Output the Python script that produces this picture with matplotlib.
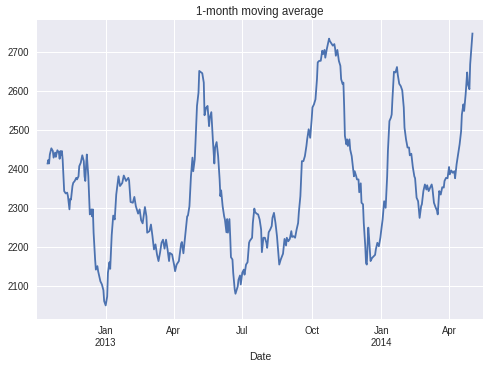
"""
1-month moving average of daily counts, seaborn darkgrid look.
Values read off the reference picture (days counted from 2012-10-01).
"""
import numpy as np
import pandas as pd
import matplotlib
matplotlib.use("Agg")
import matplotlib.pyplot as plt

start = pd.Timestamp("2012-10-01")

day = [
    15, 16, 17, 18, 20, 22, 23, 25, 26, 28, 30, 31, 32, 33, 34, 35, 36, 37, 39, 41,
    42, 44, 45, 46, 48, 49, 51, 53, 54, 56, 57, 59, 61, 63, 64, 65, 66, 67, 69, 70,
    71, 73, 74, 75, 76, 78, 79, 81, 82, 85, 87, 89, 90, 92, 94, 95, 97, 98, 100, 102,
    104, 106, 109, 111, 114, 116, 119, 122, 123, 125, 128, 130, 132, 135, 137, 139, 141, 144, 146, 147,
    150, 152, 154, 156, 158, 160, 162, 164, 166, 168, 170, 172, 174, 176, 177, 180, 183, 184, 186, 189,
    192, 193, 195, 197, 200, 201, 203, 205, 207, 208, 210, 211, 213, 215, 216, 218, 220, 222, 223, 225,
    227, 229, 230, 232, 234, 236, 237, 239, 241, 243, 244, 245, 247, 249, 250, 252, 253, 254, 256, 257,
    258, 260, 261, 263, 264, 267, 268, 270, 271, 273, 275, 276, 278, 280, 282, 283, 286, 287, 289, 290,
    292, 294, 296, 298, 299, 301, 303, 305, 306, 308, 310, 312, 313, 315, 317, 319, 320, 322, 324, 326,
    327, 329, 331, 332, 334, 336, 338, 339, 341, 343, 345, 347, 348, 350, 352, 354, 356, 358, 359, 361,
    363, 365, 366, 368, 370, 372, 373, 375, 377, 379, 380, 382, 383, 385, 388, 389, 391, 393, 395, 396,
    397, 399, 401, 403, 404, 406, 407, 408, 409, 411, 412, 413, 415, 416, 418, 420, 421, 422, 424, 425,
    427, 428, 430, 431, 433, 434, 436, 437, 438, 440, 441, 443, 445, 447, 449, 450, 452, 454, 456, 457,
    459, 461, 463, 465, 466, 468, 470, 471, 472, 474, 476, 478, 479, 481, 483, 485, 487, 488, 490, 492,
    494, 495, 497, 499, 501, 502, 504, 506, 508, 510, 511, 513, 515, 517, 518, 520, 522, 524, 525, 527,
    529, 531, 532, 534, 536, 538, 540, 541, 543, 545, 547, 548, 550, 552, 554, 555, 557, 559, 561, 563,
    564, 566, 567, 569, 571, 572, 574, 575, 577, 578,
]

value = [
    2414, 2423, 2414, 2437, 2453, 2446, 2429, 2442, 2431, 2448, 2442, 2426, 2446, 2435, 2446, 2424, 2381, 2343, 2337, 2339,
    2330, 2296, 2323, 2321, 2356, 2364, 2369, 2377, 2373, 2381, 2407, 2416, 2435, 2420, 2381, 2369, 2407, 2437, 2381, 2330,
    2283, 2296, 2278, 2296, 2236, 2167, 2141, 2150, 2137, 2111, 2103, 2088, 2060, 2049, 2072, 2133, 2160, 2143, 2230, 2280,
    2270, 2334, 2381, 2356, 2364, 2383, 2369, 2377, 2371, 2315, 2313, 2328, 2304, 2285, 2296, 2268, 2260, 2302, 2278, 2236,
    2240, 2257, 2227, 2193, 2206, 2180, 2163, 2184, 2210, 2218, 2195, 2218, 2193, 2163, 2184, 2180, 2150, 2137, 2154, 2163,
    2208, 2212, 2183, 2222, 2278, 2280, 2304, 2381, 2429, 2394, 2424, 2467, 2562, 2596, 2652, 2649, 2646, 2622, 2538, 2557,
    2562, 2510, 2532, 2546, 2476, 2414, 2455, 2469, 2433, 2373, 2330, 2345, 2304, 2278, 2270, 2237, 2271, 2236, 2271, 2227,
    2173, 2167, 2133, 2090, 2079, 2098, 2115, 2126, 2103, 2133, 2141, 2128, 2154, 2160, 2210, 2215, 2223, 2261, 2298, 2289,
    2285, 2283, 2270, 2244, 2186, 2223, 2223, 2210, 2197, 2237, 2244, 2253, 2274, 2287, 2261, 2227, 2203, 2154, 2167, 2177,
    2182, 2220, 2203, 2223, 2214, 2220, 2240, 2225, 2227, 2223, 2244, 2261, 2289, 2330, 2420, 2420, 2433, 2459, 2476, 2502,
    2480, 2528, 2558, 2566, 2579, 2631, 2674, 2678, 2678, 2704, 2695, 2706, 2686, 2708, 2735, 2729, 2723, 2717, 2721, 2710,
    2691, 2706, 2678, 2665, 2631, 2618, 2622, 2562, 2485, 2463, 2476, 2459, 2476, 2450, 2433, 2399, 2381, 2394, 2381, 2373,
    2373, 2340, 2363, 2313, 2309, 2261, 2201, 2158, 2154, 2249, 2223, 2163, 2171, 2175, 2179, 2193, 2210, 2201, 2223, 2240,
    2270, 2317, 2300, 2381, 2446, 2523, 2532, 2540, 2580, 2650, 2648, 2662, 2643, 2619, 2613, 2602, 2558, 2506, 2476, 2455,
    2455, 2435, 2439, 2405, 2381, 2376, 2326, 2317, 2274, 2304, 2309, 2343, 2360, 2347, 2358, 2343, 2352, 2360, 2350, 2313,
    2302, 2293, 2283, 2343, 2334, 2353, 2352, 2369, 2377, 2376, 2405, 2386, 2396, 2390, 2394, 2376, 2412, 2437, 2463, 2497,
    2540, 2566, 2549, 2592, 2648, 2618, 2605, 2669, 2721, 2748,
]

x_range = ("2012-10-02", "2014-05-16")
tick_dates = ["2013-01-01", "2013-04-01", "2013-07-01", "2013-10-01", "2014-01-01", "2014-04-01"]
tick_labels = ["Jan\n2013", "Apr", "Jul", "Oct", "Jan\n2014", "Apr"]

plt.rcParams.update({
    "font.family": ["Liberation Sans", "DejaVu Sans"],
    "axes.facecolor": "#EAEAF2",
    "figure.facecolor": "white",
    "axes.edgecolor": "white",
    "grid.color": "white",
    "text.color": ".15",
    "xtick.color": ".15",
    "ytick.color": ".15",
    "axes.labelcolor": ".15",
})

dates = start + pd.to_timedelta(day, unit="D")

fig = plt.figure(figsize=(490 / 72, 367 / 72), dpi=72)
ax = fig.add_axes([37 / 490, 1 - 319 / 367, 446 / 490, 299 / 367])
ax.plot(dates, value, color="#4C72B0", linewidth=1.8)

ax.set_xlim(pd.Timestamp(x_range[0]), pd.Timestamp(x_range[1]))
ax.set_xticks([pd.Timestamp(d) for d in tick_dates])
ax.set_xticklabels(tick_labels)
ax.set_yticks(np.arange(2100, 2701, 100))
ax.margins(y=0.05)

ax.grid(True, color="white", linewidth=1)
ax.set_axisbelow(True)
for s in ax.spines.values():
    s.set_visible(False)
ax.tick_params(axis="both", length=0, labelsize=9.6, pad=7.5)
ax.set_xlabel("Date", fontsize=10.5)
ax.set_title("1-month moving average", fontsize=11.5, pad=5)

fig.savefig("out.png", dpi=72)
